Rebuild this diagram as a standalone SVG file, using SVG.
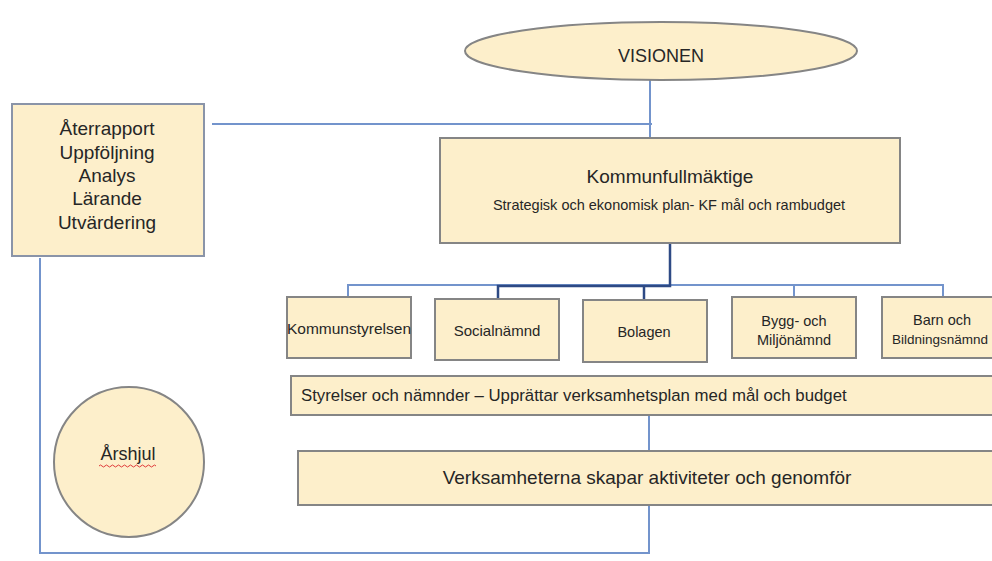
<svg xmlns="http://www.w3.org/2000/svg" width="992" height="561" viewBox="0 0 992 561">
<style>
.box{fill:#fdefcb;stroke:#858585;stroke-width:2}
.lbox{fill:#fdefcb;stroke:#8a94a8;stroke-width:2}
.t{font-family:"Liberation Sans",Arial,sans-serif;fill:#262626;text-anchor:middle}
.tl{font-family:"Liberation Sans",Arial,sans-serif;fill:#262626}
.lc{fill:none;stroke:#7394cc;stroke-width:2}
.dc{fill:none;stroke:#2e4a85;stroke-width:2.5}
</style>
<rect x="0" y="0" width="992" height="561" fill="#ffffff"/>
<g id="connectors">
<path class="lc" d="M212 124 H652"/>
<path class="lc" d="M650 80 V138"/>
<path class="lc" d="M348 297 V285 H943 V297"/>
<path class="lc" d="M794 285 V297"/>
<path class="dc" d="M670 243 V286 H498 V299"/>
<path class="dc" d="M644 286 V300"/>
<path class="lc" d="M649 398 V451"/>
<path class="lc" d="M649 505 V553 H40 V258"/>
</g>
<g id="visionen">
<ellipse class="box" cx="661" cy="51" rx="196" ry="29"/>
<text class="t" x="661" y="62" font-size="18">VISIONEN</text>
</g>
<g id="aterrapport">
<rect class="lbox" x="12" y="104" width="192" height="152"/>
<text class="t" x="107" y="135" font-size="19">Återrapport</text>
<text class="t" x="107" y="159" font-size="19">Uppföljning</text>
<text class="t" x="107" y="182" font-size="19">Analys</text>
<text class="t" x="107" y="205" font-size="19">Lärande</text>
<text class="t" x="107" y="229" font-size="19">Utvärdering</text>
</g>
<g id="kommunfullmaktige">
<rect class="box" x="440" y="138" width="460" height="105"/>
<text class="t" x="670" y="183" font-size="19">Kommunfullmäktige</text>
<text class="t" x="669" y="210" font-size="14.5">Strategisk och ekonomisk plan- KF mål och rambudget</text>
</g>
<g id="kommunstyrelsen">
<rect class="box" x="287" y="297" width="124" height="61"/>
<text class="t" x="349" y="334" font-size="15.5">Kommunstyrelsen</text>
</g>
<g id="socialnamnd">
<rect class="box" x="435" y="299" width="124" height="61"/>
<text class="t" x="497" y="336" font-size="15">Socialnämnd</text>
</g>
<g id="bolagen">
<rect class="box" x="583" y="300" width="124" height="62"/>
<text class="t" x="644" y="337" font-size="14.5">Bolagen</text>
</g>
<g id="bygg">
<rect class="box" x="732" y="297" width="124" height="61"/>
<text class="t" x="794" y="326" font-size="14.5">Bygg- och</text>
<text class="t" x="794" y="345" font-size="14.5">Miljönämnd</text>
</g>
<g id="barn">
<rect class="box" x="882" y="297" width="124" height="61"/>
<text class="t" x="942" y="325" font-size="14.5">Barn och</text>
<text class="t" x="940" y="344" font-size="13.5">Bildningsnämnd</text>
</g>
<g id="styrelser">
<rect class="box" x="291" y="376" width="720" height="39"/>
<text class="tl" x="301" y="401" font-size="16.8">Styrelser och nämnder – Upprättar verksamhetsplan med mål och budget</text>
</g>
<g id="verksamheterna">
<rect class="box" x="298" y="451" width="720" height="54"/>
<text class="t" x="647" y="484" font-size="19">Verksamheterna skapar aktiviteter och genomför</text>
</g>
<g id="arshjul">
<circle class="box" cx="129" cy="462" r="75"/>
<text class="t" x="128" y="460" font-size="18">Årshjul</text>
<path d="M99 466 q1.5 -2 3 0 t3 0 t3 0 t3 0 t3 0 t3 0 t3 0 t3 0 t3 0 t3 0 t3 0 t3 0 t3 0 t3 0 t3 0 t3 0 t3 0 t3 0 t3 0" fill="none" stroke="#e03a3a" stroke-width="1"/>
</g>
</svg>
